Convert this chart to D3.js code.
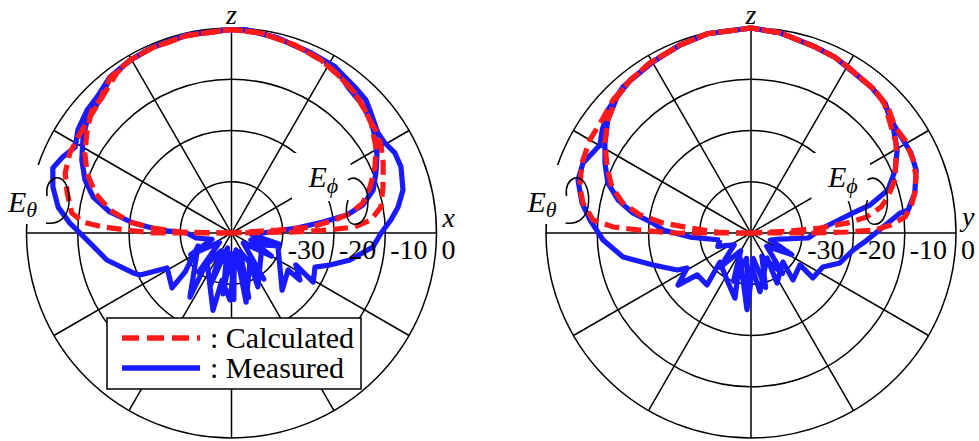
<!DOCTYPE html>
<html><head><meta charset="utf-8">
<script src="https://cdn.jsdelivr.net/npm/d3@7"></script>
<style>
html,body{margin:0;padding:0;background:#fff;}
svg{display:block;}
</style>
</head><body>
<svg id="chart" width="979" height="441"></svg>
<script>
// ---- data: [angle from +z in degrees (clockwise positive), level in dB] ----
const tickValues = [-30, -20, -10, 0];
const ringLevels = [-30, -20, -10, 0];
const spokeAngles = d3.range(0, 360, 30);
const legendLabels = [": Calculated", ": Measured"];
const axisNames = ["x", "y"];

// xz-plane (left)
const leftEthetaCalc = [[-91,-40],[-90,-24.7],[-88.4,-19.6],[-87.3,-14.9],[-85.8,-10.9],[-82.9,-8.6],[-76.3,-7.0],[-70.2,-5.5],[-63.6,-4.8],[-58,-4.7],[-50.7,-4.3],[-43.6,-3.4],[-35.6,-1.6],[-30.4,-0.9],[-23,-0.7],[-12.8,-0.5],[0,-0.3],[8.4,-0.55],[18.7,-1.3],[27.4,-2.0],[34,-2.8],[41.4,-3.6],[47.3,-4.6],[51.7,-5.3],[54.5,-5.4],[60.1,-6.3],[65.2,-7.4],[73.1,-9.1],[80.1,-10.4],[84.7,-12.7],[87.2,-15.9],[88.2,-21.2],[89.1,-27.6],[90,-40]];
const leftEphiCalc = [[-91,-40],[-88.9,-30],[-86.4,-24.6],[-83.8,-20.1],[-79.3,-15.9],[-73.7,-12.3],[-67.5,-9.5],[-61.4,-7.4],[-54.5,-5.4],[-48.6,-3.7],[-44.7,-3.5],[-37.9,-1.5],[-30.4,-0.9],[-23,-0.7],[-12.8,-0.5],[0,-0.3],[8.4,-0.55],[18.7,-1.3],[27.4,-2.0],[34,-2.8],[41.4,-3.6],[47.3,-4.6],[51.7,-5.3],[59.2,-7.2],[65.3,-9.2],[71.6,-11.5],[77.1,-13.7],[80.5,-16.4],[82.8,-19.6],[85.7,-24.4],[86.3,-30.9],[90,-40]];
const leftEthetaMeas = [[0,-0.3],[4.6,-0.3],[13.4,-0.9],[23.8,-1.6],[31.9,-1.8],[40.2,-2.7],[45.3,-3.1],[49.3,-4.1],[55.7,-5.4],[59.6,-5.3],[63.9,-4.5],[68.7,-4.5],[75.9,-5.5],[81.1,-7.1],[85.3,-8.8],[90,-10.8],[95.7,-12.3],[102.8,-16.3],[108,-19.8],[112.2,-22.4],[121,-21.4],[116.4,-26],[124.5,-23.8],[123.2,-26.8],[138.5,-25.1],[105.6,-30.6],[111.5,-33.6],[153.9,-28.3],[147.5,-33.3],[168.1,-26.2],[165.2,-36.6],[-178.7,-26.9],[-168.6,-30.6],[-166.5,-24.5],[-139.8,-32.6],[-147,-25.1],[-111.2,-33],[-130,-28.2],[-132.7,-24.2],[-118.5,-25.7],[-114.7,-20.4],[-112.1,-19.3],[-102.2,-15.1],[-92.8,-11.8],[-86.5,-8.4],[-81.5,-5.8],[-75.5,-4.0],[-70,-2.9],[-65.7,-3.9],[-61.2,-5.2],[-56.1,-3.9],[-49.6,-3.0],[-44.7,-2.7],[-37.9,-1.4],[-30.4,-0.9],[-22.9,-0.6],[-12.7,-0.4],[0,-0.3]];
const leftEphiMeas = [[-90,-31.3],[-87.6,-26],[-84.2,-20.7],[-80.2,-15.9],[-75.4,-12.1],[-70.1,-9.6],[-64,-7.5],[-57.1,-5.5],[-51,-4.0],[-44.7,-3.5],[-37.9,-1.5],[-30.4,-0.9],[-22.9,-0.6],[-12.7,-0.4],[0,-0.3],[4.6,-0.3],[13.4,-0.9],[23.8,-1.6],[31.9,-1.8],[38.6,-3.6],[44.9,-4.2],[51,-5.0],[56.2,-6.3],[61.8,-7.8],[67.5,-9.5],[73.1,-11.1],[78,-13.8],[81.1,-17.2],[83.1,-22],[85.6,-27.2],[90,-33.9],[95,-36],[103,-30.5],[110,-36],[120,-31],[130,-37],[145,-29],[155,-36],[165,-27],[172,-36],[178,-27],[-178,-36],[-172,-28],[-165,-37],[-158,-29],[-150,-36],[-140,-30],[-128,-37],[-118,-31],[-108,-36],[-98,-33],[-90,-31.3]];

// yz-plane (right)
const rightEthetaCalc = [[-91,-40],[-90,-24.8],[-88.5,-18.3],[-87.5,-13.1],[-85.3,-9.1],[-79.9,-6.7],[-74.9,-5.4],[-67.5,-4.3],[-60,-3.7],[-52.8,-3.5],[-46,-2.6],[-38.3,-2.0],[-30.7,-1.4],[-20.7,-0.8],[-12.4,-0.2],[0,0],[8.5,-0.55],[19,-1.6],[25.5,-2.0],[30.3,-2.5],[40.9,-3.1],[47.4,-3.7],[53.6,-5.1],[58.9,-4.9],[65.7,-5.3],[71.3,-6.0],[76.3,-7.1],[80.8,-8.4],[84.1,-9.8],[86.7,-12.6],[88.6,-15.8],[89.4,-21.1],[90,-27.5],[91,-40]];
const rightEphiCalc = [[-91,-40],[-90,-37.9],[-88.3,-33.4],[-85.3,-28.1],[-83.5,-22.7],[-80.8,-18.1],[-76.8,-14.3],[-71.7,-11.4],[-65.4,-9.1],[-58.3,-6.5],[-51.7,-4.4],[-44.6,-2.75],[-38.3,-2.0],[-30.7,-1.4],[-20.7,-0.8],[-12.4,-0.2],[0,0],[8.5,-0.55],[19,-1.6],[25.5,-2.0],[30.3,-2.5],[40.9,-3.1],[46,-3.8],[52.9,-5.7],[58.2,-6.7],[64.2,-8.6],[69.8,-10.1],[75.3,-12.4],[78.7,-14.1],[82.1,-17.2],[84.1,-21.2],[85.9,-26.5],[87.1,-32.4],[90,-40]];
const rightEthetaMeas = [[0,0],[8.5,-0.55],[19,-1.6],[25.5,-2.0],[30.3,-2.5],[39.4,-3.1],[45.9,-3.6],[51.1,-4.9],[57.4,-5.2],[63.4,-5.1],[69.1,-5.5],[76.3,-7.1],[81.7,-9.0],[82.4,-10.7],[87.4,-14.2],[93.5,-17.3],[99.5,-19.8],[108.6,-21.7],[115.3,-24.5],[126,-25.1],[123.1,-28.6],[138.2,-27.7],[132.2,-31.6],[152.5,-29],[147.4,-34.2],[171.3,-28.4],[178.4,-33.2],[-177,-25],[-156.3,-34.7],[-166.2,-26.9],[-152.9,-29.7],[-133.1,-31.7],[-139.8,-26.7],[-127.9,-26.7],[-125.5,-22.5],[-118.7,-25.8],[-116.6,-23.9],[-108.1,-19.9],[-100.6,-14.6],[-92.7,-11.1],[-85.4,-8.5],[-79.9,-6.5],[-73,-4.7],[-67.4,-4.5],[-59.8,-5.9],[-55.3,-4.7],[-49.3,-3.2],[-41.2,-2.1],[-29.8,-1.5],[-20.7,-0.8],[-12.4,-0.2],[0,0]];
const rightEphiMeas = [[-102.7,-33.8],[-93.8,-28.1],[-88,-22.8],[-84.2,-20.8],[-80.4,-16.6],[-76.1,-13.3],[-70.7,-10.4],[-64.4,-8.4],[-58.3,-6.5],[-51.7,-4.4],[-44.6,-2.75],[-38.3,-2.0],[-29.8,-1.5],[-20.7,-0.8],[-12.4,-0.2],[0,0],[8.5,-0.55],[19,-1.6],[25.5,-2.0],[39.4,-3.1],[45.9,-3.6],[53.3,-5.4],[60.4,-7.2],[66.4,-9.3],[72.6,-12],[76.8,-16.2],[78.9,-19.7],[82.5,-23.5],[86,-26],[95,-28.8],[101.7,-34.2],[110,-36],[118,-31],[130,-36],[142,-30],[155,-35],[165,-29],[175,-35],[-178,-27],[-170,-35],[-160,-30],[-150,-36],[-138,-31],[-125,-36],[-112,-33],[-102.7,-33.8]];

// ---- drawing ----
const FONT = "'Liberation Serif', Tinos, 'Times New Roman', 'DejaVu Serif', serif";
const svg = d3.select("#chart").attr("font-family", FONT);
const R = 205;
const rScale = d3.scaleLinear().domain([-40, 0]).range([0, R]).clamp(true);
const RED = "#ff1a1a", BLUE = "#1a1aff";
const LW = 5.2;
const radial = d3.lineRadial()
  .angle(d => d[0] * Math.PI / 180)
  .radius(d => rScale(d[1]));

const panels = [
  {cx: 231.5, cy: 233, axis: axisNames[0], legend: true,
   calc: [leftEthetaCalc, leftEphiCalc], meas: [leftEthetaMeas, leftEphiMeas]},
  {cx: 751, cy: 233, axis: axisNames[1], legend: false,
   calc: [rightEthetaCalc, rightEphiCalc], meas: [rightEthetaMeas, rightEphiMeas]}
];

function txt(sel) { return sel.append("text").attr("font-family", FONT).attr("fill", "#000"); }

panels.forEach(p => {
  const g = svg.append("g").attr("transform", `translate(${p.cx},${p.cy})`);

  // grid rings
  g.selectAll("circle.ring").data(ringLevels).enter().append("circle")
    .attr("r", d => rScale(d)).attr("fill", "none")
    .attr("stroke", "#000").attr("stroke-width", 1.5);
  // spokes
  g.selectAll("line.spoke").data(spokeAngles).enter().append("line")
    .attr("x1", 0).attr("y1", 0)
    .attr("x2", d => R * Math.sin(d * Math.PI / 180))
    .attr("y2", d => -R * Math.cos(d * Math.PI / 180))
    .attr("stroke", "#000").attr("stroke-width", 1.5);

  // white backgrounds behind E-labels
  g.append("rect").attr("x", -228).attr("y", -68).attr("width", 42).attr("height", 59).attr("fill", "#fff");
  g.append("rect").attr("x", 60.5).attr("y", -80).attr("width", 58.5).attr("height", 48).attr("fill", "#fff");

  // measured (blue solid)
  p.meas.forEach(s => g.append("path").datum(s).attr("d", radial)
    .attr("fill", "none").attr("stroke", BLUE).attr("stroke-width", LW)
    .attr("stroke-linejoin", "round"));
  // calculated (red dashed)
  p.calc.forEach(s => g.append("path").datum(s).attr("d", radial)
    .attr("fill", "none").attr("stroke", RED).attr("stroke-width", LW)
    .attr("stroke-dasharray", "15,7"));

  // tick labels
  g.selectAll("text.tick").data(tickValues).enter().append("text")
    .attr("font-family", FONT).attr("fill", "#000")
    .attr("x", d => rScale(d) + 5).attr("y", 26)
    .attr("font-size", 28).text(d => d);

  // axis labels
  txt(g).attr("x", 0).attr("y", -209).attr("text-anchor", "middle")
    .attr("font-size", 28).attr("font-style", "italic").text("z");
  txt(g).attr("x", 211).attr("y", p.axis === "x" ? -6 : -7)
    .attr("font-size", 28).attr("font-style", "italic").text(p.axis);

  // E-theta label + loop
  const t1 = txt(g).attr("x", -223.5).attr("y", -21).attr("font-size", 30).attr("font-style", "italic");
  t1.append("tspan").text("E");
  t1.append("tspan").attr("font-size", 22).attr("dy", 5).text("θ");
  g.append("path")
    .attr("d", "M -184.5,-37 C -185.5,-45 -183.5,-52 -176.5,-55 C -165.5,-57 -161.5,-41 -162.5,-30 C -163.5,-17 -171.5,-8 -185.5,-10")
    .attr("fill", "none").attr("stroke", "#000").attr("stroke-width", 1.5);

  // E-phi label + loop
  const t2 = txt(g).attr("x", 77).attr("y", -46).attr("font-size", 30).attr("font-style", "italic");
  t2.append("tspan").text("E");
  t2.append("tspan").attr("font-size", 22).attr("dy", 6).text("ϕ");
  g.append("path")
    .attr("d", "M 116.5,-53 C 124.5,-59 136.5,-48 136.5,-33 C 136.5,-17 130.5,-7 121.5,-9 C 114.5,-11 113.5,-23 116.5,-33")
    .attr("fill", "none").attr("stroke", "#000").attr("stroke-width", 1.5);

  // legend
  if (p.legend) {
    const lg = g.append("g").attr("transform", "translate(-124.5,85)");
    lg.append("rect").attr("width", 254).attr("height", 71)
      .attr("fill", "#fff").attr("stroke", "#000").attr("stroke-width", 1.5);
    const items = [{c: RED, dash: "17,8", label: legendLabels[0]}, {c: BLUE, dash: null, label: legendLabels[1]}];
    items.forEach((it, i) => {
      lg.append("line").attr("x1", 15).attr("x2", 93).attr("y1", 20 + i * 30).attr("y2", 20 + i * 30)
        .attr("stroke", it.c).attr("stroke-width", 5.5).attr("stroke-dasharray", it.dash);
      txt(lg).attr("x", 103).attr("y", 30 + i * 30).attr("font-size", 30).text(it.label);
    });
  }
});
</script>
</body></html>
